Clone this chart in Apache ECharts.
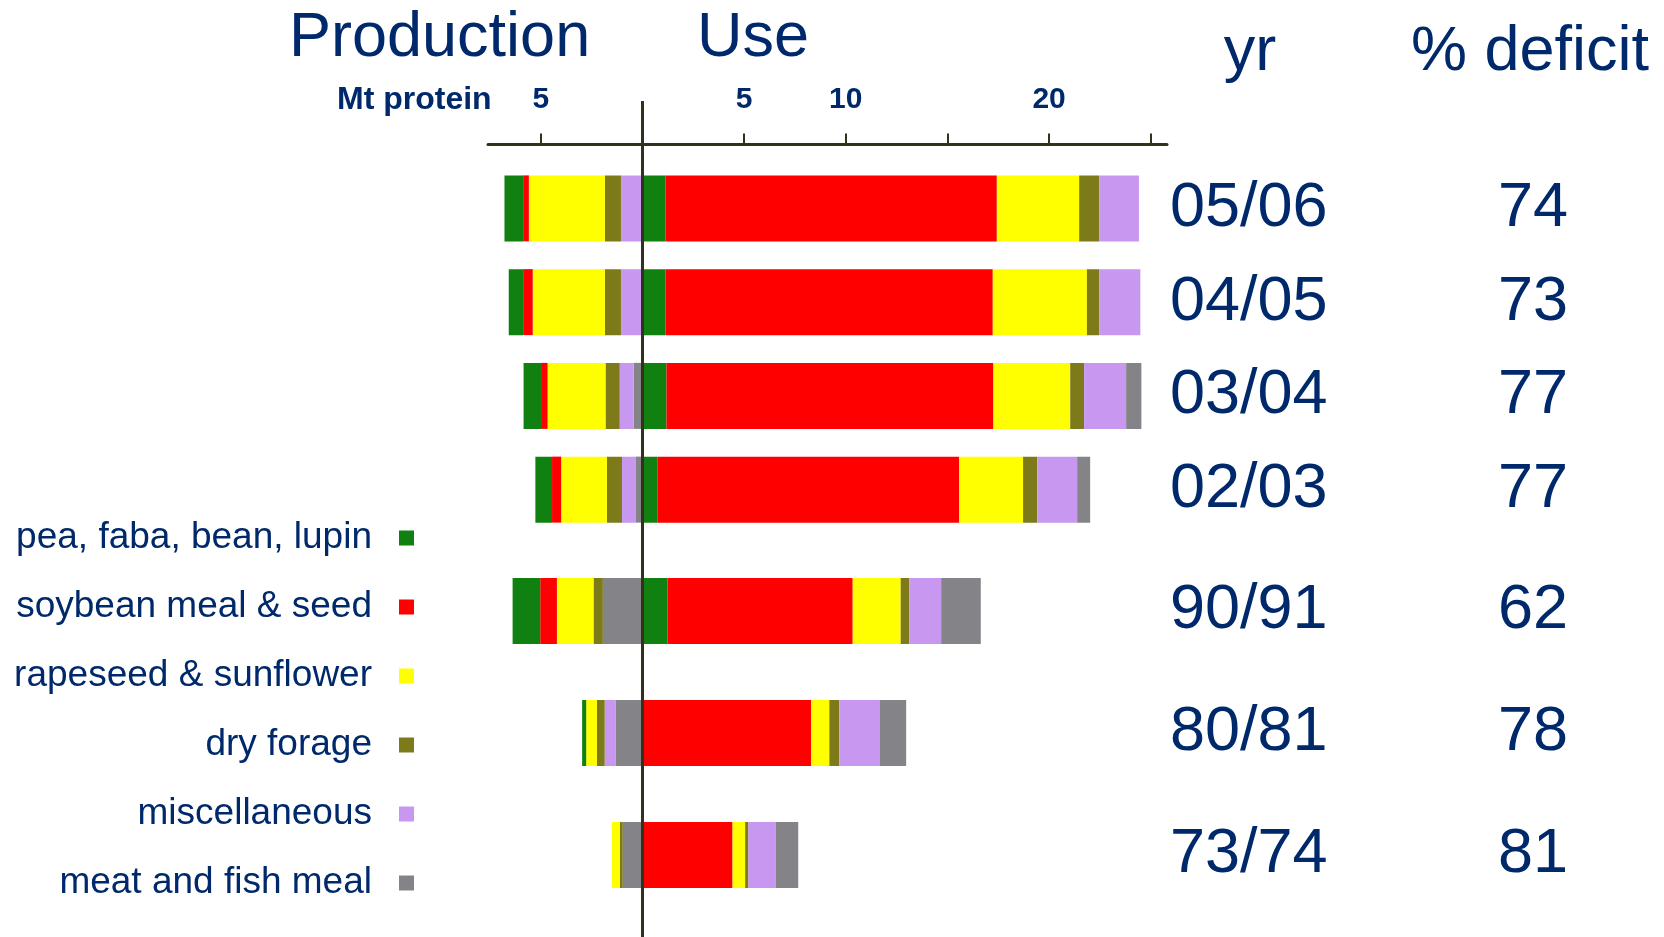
<!DOCTYPE html>
<html>
<head>
<meta charset="utf-8">
<title>Protein production and use</title>
<script src="https://cdn.jsdelivr.net/npm/echarts@6/dist/echarts.min.js"></script>
<style>
  html, body { margin: 0; padding: 0; background: #fff; }
  #main { width: 1664px; height: 937px; }
</style>
</head>
<body>
<div id="main"></div>
<script>
// rows, top to bottom
const years = ['05/06', '04/05', '03/04', '02/03', '90/91', '80/81', '73/74'];
const deficit = [74, 73, 77, 77, 62, 78, 81];

const groups = ['pea, faba, bean, lupin', 'soybean meal & seed', 'rapeseed & sunflower',
  'dry forage', 'miscellaneous', 'meat and fish meal'];

// production, Mt protein (drawn to the left of zero)
const prodPulses = [0.92, 0.71, 0.86, 0.82, 1.36, 0.20, 0];
const prodSoy    = [0.28, 0.47, 0.32, 0.45, 0.82, 0, 0];
const prodRape   = [3.74, 3.55, 2.85, 2.25, 1.80, 0.53, 0.38];
const prodForage = [0.79, 0.79, 0.70, 0.74, 0.46, 0.38, 0.15];
const prodMisc   = [1.06, 1.06, 0.69, 0.66, 0, 0.53, 0];
const prodMeat   = [0, 0, 0.43, 0.35, 1.95, 1.33, 0.97];

// use, Mt protein (drawn to the right)
const usePulses = [1.13, 1.13, 1.18, 0.75, 1.23, 0, 0];
const useSoy    = [16.3, 16.1, 16.08, 14.83, 9.11, 8.30, 4.43];
const useRape   = [4.05, 4.63, 3.78, 3.14, 2.36, 0.89, 0.62];
const useForage = [0.98, 0.60, 0.68, 0.70, 0.43, 0.49, 0.16];
const useMisc   = [1.96, 2.03, 2.07, 1.96, 1.56, 1.98, 1.34];
const useMeat   = [0, 0, 0.75, 0.64, 1.95, 1.31, 1.11];

const tickValues = [-5, 0, 5, 10, 15, 20, 25];
const labelValues = [-5, 5, 10, 20];

const production = [prodPulses, prodSoy, prodRape, prodForage, prodMisc, prodMeat];
const use = [usePulses, useSoy, useRape, useForage, useMisc, useMeat];
const colors = ['#108010', '#ff0000', '#ffff00', '#7d7a1a', '#c898f0', '#848488'];

const navy = '#00296b';
const axisColor = '#33301c';
const font = 'Liberation Sans, Arial, sans-serif';

// recent years in the upper block, older ones in the lower block
const blocks = [[0, 4], [4, 7]];

function bar(i, data, g) {
  return {
    type: 'bar', name: groups[i], data: data,
    stack: 'row' + g, xAxisIndex: g, yAxisIndex: g,
    barWidth: 66, itemStyle: { color: colors[i] },
    animation: false
  };
}

const series = [];
blocks.forEach(([from, to], g) => {
  use.forEach((vals, i) => series.push(bar(i, vals.slice(from, to), g)));
  // negative stack grows from zero outward, so meat meal goes first
  for (let i = production.length - 1; i >= 0; i--) {
    series.push(bar(i, production[i].slice(from, to).map(v => -v), g));
  }
});

function yearAxis(g, from, to) {
  return {
    gridIndex: g, type: 'category', inverse: true, position: 'right',
    data: years.slice(from, to),
    axisLine: { show: false }, axisTick: { show: false },
    axisLabel: {
      margin: 3,
      formatter: (v, i) => `{yr|${v}}{pct|${deficit[from + i]}}`,
      rich: {
        yr: { width: 328, fontSize: 63, color: navy, fontFamily: font },
        pct: { width: 70, align: 'center', fontSize: 63, color: navy, fontFamily: font }
      }
    }
  };
}

const chart = echarts.init(document.getElementById('main'));
chart.setOption({
  backgroundColor: '#fff',
  grid: [
    { left: 488, right: 497, top: 161.5, height: 375 },
    { left: 488, right: 497, top: 550, height: 366 }
  ],
  xAxis: [
    {
      gridIndex: 0, type: 'value', position: 'top', offset: 17,
      min: -7.6, max: 25.8,
      axisLine: { show: true, onZero: false, lineStyle: { color: axisColor, width: 3 } },
      axisTick: { show: true, customValues: tickValues, length: 11, lineStyle: { color: axisColor, width: 2 } },
      axisLabel: {
        customValues: labelValues, formatter: v => Math.abs(v),
        margin: 30, fontSize: 30, fontWeight: 'bold', color: navy, fontFamily: font
      },
      splitLine: { show: false }
    },
    { gridIndex: 1, type: 'value', min: -7.6, max: 25.8, show: false }
  ],
  yAxis: [yearAxis(0, 0, 4), yearAxis(1, 4, 7)],
  legend: {
    data: groups, orient: 'vertical', align: 'right',
    right: 1250, top: 518, padding: 0, itemGap: 29,
    icon: 'rect', itemWidth: 15, itemHeight: 15, selectedMode: false,
    textStyle: { fontSize: 37, lineHeight: 40, color: navy, fontFamily: font, padding: [0, 22, 0, 0] }
  },
  series: series
});

const x0 = chart.convertToPixel({ xAxisIndex: 0 }, 0);
const heading = (text, x, y, align, size, weight) => ({
  type: 'text', z: 100,
  style: { text, x, y, align, verticalAlign: 'middle', fill: navy,
    font: `${weight || 'normal'} ${size}px ${font}` }
});
chart.setOption({
  graphic: [
    { type: 'line', z: 100, shape: { x1: x0, y1: 101, x2: x0, y2: 937 },
      style: { stroke: axisColor, lineWidth: 3 } },
    heading('Production', 289, 39, 'left', 63),
    heading('Use', 697, 39, 'left', 63),
    heading('yr', 1250, 53, 'center', 63),
    heading('% deficit', 1530, 53, 'center', 63),
    heading('Mt protein', 337, 100, 'left', 32, 'bold')
  ]
});
</script>
</body>
</html>
